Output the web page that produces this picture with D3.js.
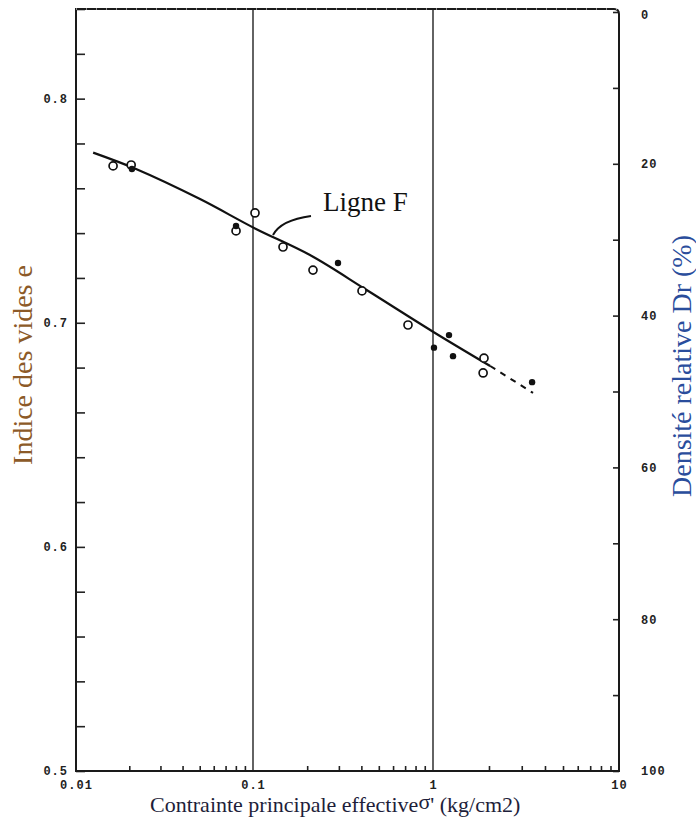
<!DOCTYPE html>
<html>
<head>
<meta charset="utf-8">
<script src="https://cdn.jsdelivr.net/npm/d3@7"></script>
<style>
  body { margin: 0; background: #fff; }
  svg { display: block; }
  .tick text { font-family: "Liberation Mono", "DejaVu Sans Mono", monospace; font-weight: bold; font-size: 12px; letter-spacing: 1px; fill: #222; }
  .tick line { stroke: #222; stroke-width: 1.6; }
</style>
</head>
<body>
<div id="chart"></div>
<script>
// solid fitted line "Ligne F" (sigma' in kg/cm2, void ratio e)
const lineX = [0.0125, 0.022, 0.0502, 0.1026, 0.2073, 0.428, 1.0, 2.03];
const lineE = [0.7759, 0.7685, 0.7552, 0.7421, 0.7302, 0.7146, 0.696, 0.6807];
// dashed extension
const dashX = [2.03, 3.45];
const dashE = [0.6807, 0.6687];
// open circles
const openX = [0.0162, 0.0205, 0.1026, 0.0802, 0.1468, 0.2154, 0.4033, 0.7263, 1.88, 1.86];
const openE = [0.770, 0.7704, 0.749, 0.741, 0.7338, 0.7235, 0.7142, 0.699, 0.6842, 0.6776];
// filled dots
const fillX = [0.0207, 0.0802, 0.2966, 1.219, 1.012, 1.281, 3.41];
const fillE = [0.7686, 0.7432, 0.7267, 0.6945, 0.6889, 0.6851, 0.6735];

// tick labels
const xLabelVals = [0.01, 0.1, 1, 10];
const xLabelText = ["0.01", "0.1", "1", "10"];
const eLabelVals = [0.5, 0.6, 0.7, 0.8];
const drLabelVals = [0, 20, 40, 60, 80, 100];

const w = 696, h = 820;
const plotTop = 9, plotBottom = 771;

const svg = d3.select("#chart").append("svg")
  .attr("width", w)
  .attr("height", h);

// scales (x log, decades follow the scanned page)
const x = d3.scaleLog()
  .domain([0.01, 0.1, 1, 10])
  .range([76, 253, 433, 619]);
const y = d3.scaleLinear()
  .domain([0.5, 0.84])
  .range([plotBottom, plotTop]);
const yDr = d3.scaleLinear()
  .domain([0, 100])
  .range([12, plotBottom]);

const plotLeft = x(0.01), plotRight = x(10);

// vertical grid lines at 0.1 and 1
svg.append("g")
  .selectAll("line")
  .data([0.1, 1])
  .join("line")
  .attr("x1", d => x(d)).attr("x2", d => x(d))
  .attr("y1", plotTop).attr("y2", plotBottom)
  .attr("stroke", "#222")
  .attr("stroke-width", 1.4);

// left axis: minor ticks every 0.02, labels every 0.1
const eMinor = d3.range(0.5, 0.8401, 0.02);
svg.append("g")
  .attr("transform", `translate(${plotLeft},0)`)
  .call(d3.axisLeft(y).tickValues(eMinor).tickSizeInner(-9).tickSizeOuter(0).tickFormat(""))
  .call(g => g.select(".domain").remove());
svg.append("g")
  .attr("transform", `translate(${plotLeft},0)`)
  .call(d3.axisLeft(y).tickValues(eLabelVals).tickSize(0).tickPadding(8).tickFormat(d3.format(".1f")))
  .call(g => g.select(".domain").remove());

// right axis: Dr (%)
svg.append("g")
  .attr("transform", `translate(${plotRight},0)`)
  .call(d3.axisRight(yDr).tickValues(d3.range(0, 101, 10)).tickSizeInner(-6).tickSizeOuter(0).tickFormat(""))
  .call(g => g.select(".domain").remove());
svg.append("g")
  .attr("transform", `translate(${plotRight},0)`)
  .call(d3.axisRight(yDr).tickValues(drLabelVals).tickSize(0).tickPadding(22).tickFormat(d => d))
  .call(g => g.select(".domain").remove())
  .call(g => g.selectAll(".tick").filter(d => d === 0).attr("transform", `translate(0,${yDr(0) + 3})`));

// bottom axis: minor ticks 2..9 per decade, labels at decades
const xMinor = [];
[0.01, 0.1, 1].forEach(dec => d3.range(2, 10).forEach(k => xMinor.push(dec * k)));
svg.append("g")
  .attr("transform", `translate(0,${plotBottom})`)
  .call(d3.axisBottom(x).tickValues(xMinor).tickSizeInner(-5).tickSizeOuter(0).tickFormat(""))
  .call(g => g.select(".domain").remove());
svg.append("g")
  .attr("transform", `translate(0,${plotBottom})`)
  .call(d3.axisBottom(x).tickValues(xLabelVals).tickSize(0).tickPadding(9).tickFormat((d, i) => xLabelText[i]))
  .call(g => g.select(".domain").remove());

// frame
svg.append("path")
  .attr("d", `M${plotLeft},${plotBottom} L${plotLeft},${plotTop} L${plotRight - 5},${plotTop} Q${plotRight},${plotTop} ${plotRight},${plotTop + 5} L${plotRight},${plotBottom} Z`)
  .attr("fill", "none")
  .attr("stroke", "#1a1a1a")
  .attr("stroke-width", 2);
svg.append("line")
  .attr("x1", plotLeft).attr("x2", plotRight)
  .attr("y1", plotTop).attr("y2", plotTop)
  .attr("stroke", "#fff")
  .attr("stroke-width", 1)
  .attr("stroke-dasharray", "1,9");

// fitted line
const line = d3.line()
  .x(d => x(d[0]))
  .y(d => y(d[1]))
  .curve(d3.curveCatmullRom);
svg.append("path")
  .datum(d3.zip(lineX, lineE))
  .attr("d", line)
  .attr("fill", "none")
  .attr("stroke", "#111")
  .attr("stroke-width", 2.2);
svg.append("path")
  .datum(d3.zip(dashX, dashE))
  .attr("d", line)
  .attr("fill", "none")
  .attr("stroke", "#111")
  .attr("stroke-width", 2)
  .attr("stroke-dasharray", "6,6");

// points
svg.append("g")
  .selectAll("circle")
  .data(d3.zip(openX, openE))
  .join("circle")
  .attr("cx", d => x(d[0]))
  .attr("cy", d => y(d[1]))
  .attr("r", 4)
  .attr("fill", "#fff")
  .attr("stroke", "#111")
  .attr("stroke-width", 1.7);
svg.append("g")
  .selectAll("circle")
  .data(d3.zip(fillX, fillE))
  .join("circle")
  .attr("cx", d => x(d[0]))
  .attr("cy", d => y(d[1]))
  .attr("r", 3.2)
  .attr("fill", "#111");

// annotation "Ligne F"
svg.append("text")
  .text("Ligne F")
  .attr("x", 323)
  .attr("y", 211)
  .attr("font-family", "Liberation Serif, Times New Roman, serif")
  .attr("font-size", 27)
  .attr("fill", "#111");
svg.append("path")
  .attr("d", "M311,216 Q281,220 273,235")
  .attr("fill", "none")
  .attr("stroke", "#111")
  .attr("stroke-width", 2);

// axis titles
svg.append("text")
  .text("Indice des vides e")
  .attr("transform", "translate(32,365) rotate(-90)")
  .attr("text-anchor", "middle")
  .attr("font-family", "Liberation Serif, Times New Roman, serif")
  .attr("font-size", 28)
  .attr("fill", "#8c5a28");

svg.append("text")
  .text("Densité relative Dr (%)")
  .attr("transform", "translate(691,366) rotate(-90)")
  .attr("text-anchor", "middle")
  .attr("font-family", "Liberation Serif, Times New Roman, serif")
  .attr("font-size", 28)
  .attr("fill", "#2a4d9c");

const xt = svg.append("text")
  .attr("x", 150)
  .attr("y", 812)
  .attr("font-family", "Liberation Serif, Times New Roman, serif")
  .attr("font-size", 22)
  .attr("fill", "#1e1e3a");
xt.append("tspan").text("Contrainte principale effective");
xt.append("tspan").text("σ").attr("dy", -3).attr("font-size", 22);
xt.append("tspan").text("' (kg/cm2)").attr("dy", 3);
</script>
</body>
</html>
